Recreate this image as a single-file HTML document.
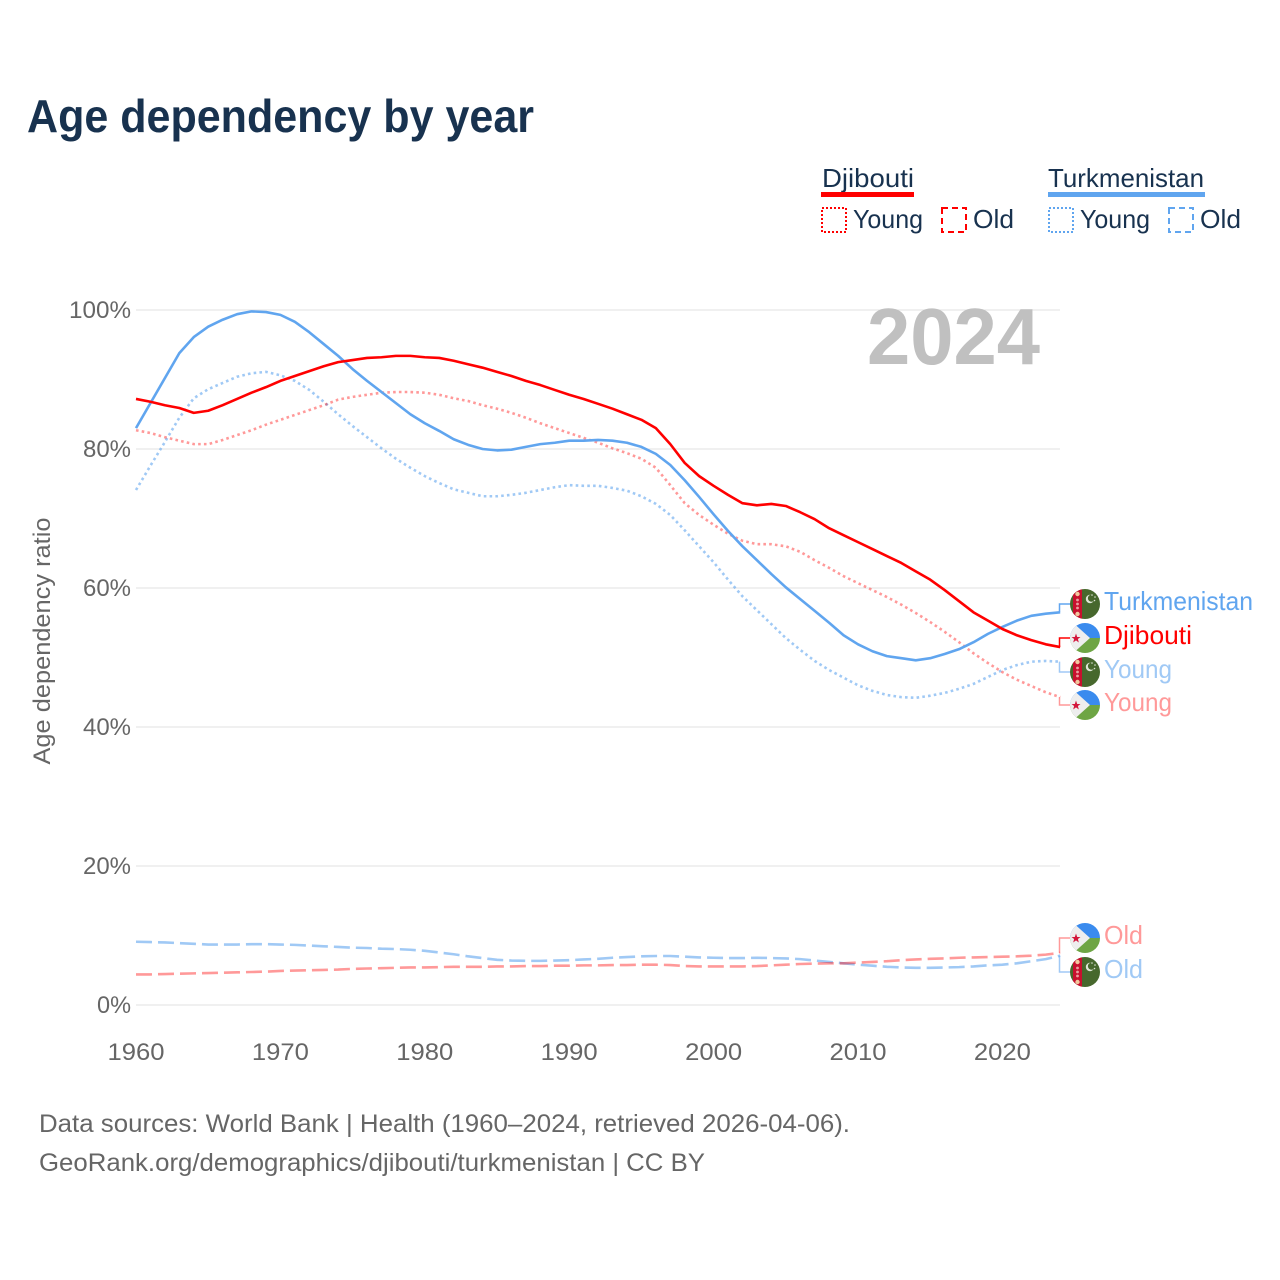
<!DOCTYPE html>
<html lang="en">
<head>
<meta charset="utf-8">
<title>Age dependency by year</title>
<style>
html,body{margin:0;padding:0;background:#fff;width:1280px;height:1280px;overflow:hidden}
svg{display:block}
text{font-family:"Liberation Sans",sans-serif}
</style>
</head>
<body>
<svg id="chart" width="1280" height="1280" viewBox="0 0 1280 1280" xmlns="http://www.w3.org/2000/svg">
<defs>
<clipPath id="flag-clip"><circle cx="15" cy="15" r="15"/></clipPath>
<g id="flag-dj" clip-path="url(#flag-clip)">
  <rect width="30" height="15" fill="#3a8bee"/>
  <rect y="15" width="30" height="15" fill="#6ea544"/>
  <path d="M0 -3 L20 15 L0 33Z" fill="#eeeeee"/>
  <polygon points="6,10.5 7.2,14 10.5,14 7.9,16 8.8,19.5 6,17.4 3.2,19.5 4.1,16 1.5,14 4.8,14" fill="#d3163c"/>
</g>
<g id="flag-tm" clip-path="url(#flag-clip)">
  <rect width="30" height="30" fill="#47682d"/>
  <rect x="3" width="9" height="30" fill="#c8102e"/>
  <circle cx="7.5" cy="5" r="2.2" fill="#f2c9a0"/>
  <circle cx="7.5" cy="25" r="2.2" fill="#f2c9a0"/>
  <circle cx="7.5" cy="11" r="1.4" fill="#e8a0a0"/>
  <circle cx="7.5" cy="15" r="1.4" fill="#e8a0a0"/>
  <circle cx="7.5" cy="19" r="1.4" fill="#e8a0a0"/>
  <circle cx="20" cy="10" r="4.2" fill="#dfe6d8"/>
  <circle cx="21.5" cy="9.2" r="3.6" fill="#47682d"/>
  <circle cx="22" cy="6" r="0.8" fill="#dfe6d8"/>
  <circle cx="25" cy="8" r="0.8" fill="#dfe6d8"/>
  <circle cx="24.5" cy="11.5" r="0.8" fill="#dfe6d8"/>
</g>
</defs>

<text x="27" y="132" font-size="46" font-weight="700" fill="#18324f" textLength="507" lengthAdjust="spacingAndGlyphs">Age dependency by year</text>

<g fill="#18324f" font-size="26">
  <text x="822" y="187" textLength="92" lengthAdjust="spacingAndGlyphs">Djibouti</text>
  <rect x="821" y="192" width="93" height="5" fill="#ff0000"/>
  <rect x="822" y="208" width="24" height="24" fill="none" stroke="#ff0000" stroke-width="2" stroke-dasharray="2 2"/>
  <text x="853" y="228" textLength="70" lengthAdjust="spacingAndGlyphs">Young</text>
  <rect x="942" y="208" width="24" height="24" fill="none" stroke="#ff0000" stroke-width="2" stroke-dasharray="6 4"/>
  <text x="973" y="228" textLength="41" lengthAdjust="spacingAndGlyphs">Old</text>
  <text x="1048" y="187" textLength="156" lengthAdjust="spacingAndGlyphs">Turkmenistan</text>
  <rect x="1048" y="192" width="157" height="5" fill="#60a5ef"/>
  <rect x="1049" y="208" width="24" height="24" fill="none" stroke="#60a5ef" stroke-width="2" stroke-dasharray="2 2"/>
  <text x="1080" y="228" textLength="70" lengthAdjust="spacingAndGlyphs">Young</text>
  <rect x="1169" y="208" width="24" height="24" fill="none" stroke="#60a5ef" stroke-width="2" stroke-dasharray="6 4"/>
  <text x="1200" y="228" textLength="41" lengthAdjust="spacingAndGlyphs">Old</text>
</g>

<g id="grid"></g>
<g id="yticks"></g>
<g id="xticks"></g>

<text transform="translate(50,641) rotate(-90)" text-anchor="middle" font-size="24" fill="#666666" textLength="247" lengthAdjust="spacingAndGlyphs">Age dependency ratio</text>

<text x="1040" y="364" text-anchor="end" font-size="80" font-weight="700" fill="#c0c0c0" textLength="173" lengthAdjust="spacingAndGlyphs">2024</text>

<g id="connectors"></g>
<g id="series"></g>
<g id="endlabels"></g>

<text x="39" y="1132" font-size="25" fill="#666666" textLength="811" lengthAdjust="spacingAndGlyphs">Data sources: World Bank | Health (1960–2024, retrieved 2026-04-06).</text>
<text x="39" y="1171" font-size="25" fill="#666666" textLength="666" lengthAdjust="spacingAndGlyphs">GeoRank.org/demographics/djibouti/turkmenistan | CC BY</text>
</svg>

<script>
const startYear = 1960;
const xTickValues = [1960, 1970, 1980, 1990, 2000, 2010, 2020];
const yTickValues = [0, 20, 40, 60, 80, 100];

const djiboutiTotal = [87.2,86.8,86.3,85.9,85.2,85.5,86.3,87.2,88.1,88.9,89.8,90.5,91.2,91.9,92.5,92.8,93.1,93.2,93.4,93.4,93.2,93.1,92.7,92.2,91.7,91.1,90.5,89.8,89.2,88.5,87.8,87.2,86.5,85.8,85.0,84.2,83.0,80.7,78.0,76.1,74.7,73.4,72.2,71.9,72.1,71.8,70.9,69.9,68.6,67.6,66.6,65.6,64.6,63.6,62.4,61.2,59.7,58.1,56.5,55.3,54.1,53.2,52.5,51.9,51.5];
const turkmenistanTotal = [83.0,86.6,90.2,93.8,96.1,97.6,98.6,99.4,99.8,99.7,99.3,98.3,96.8,95.1,93.4,91.5,89.8,88.2,86.6,85.0,83.7,82.6,81.4,80.6,80.0,79.8,79.9,80.3,80.7,80.9,81.2,81.2,81.3,81.2,80.9,80.3,79.3,77.7,75.5,73.1,70.6,68.2,66.0,64.0,62.0,60.1,58.4,56.7,55.0,53.2,51.9,50.9,50.2,49.9,49.6,49.9,50.5,51.2,52.2,53.4,54.4,55.3,56.0,56.3,56.5];
const djiboutiYoung = [82.7,82.3,81.7,81.2,80.7,80.7,81.3,82.0,82.7,83.5,84.2,84.9,85.6,86.3,87.1,87.5,87.8,88.1,88.2,88.2,88.1,87.8,87.3,86.9,86.3,85.8,85.2,84.5,83.7,83.0,82.3,81.6,80.9,80.1,79.4,78.6,77.3,74.8,72.2,70.5,69.1,67.8,66.8,66.3,66.3,66.0,65.2,64.0,62.9,61.7,60.7,59.7,58.7,57.6,56.4,55.1,53.7,52.2,50.6,49.2,47.9,46.8,45.9,45.0,44.3];
const turkmenistanYoung = [74.1,77.6,81.0,84.5,87.3,88.6,89.5,90.4,90.9,91.1,90.6,89.8,88.5,86.8,85.0,83.3,81.7,80.1,78.6,77.3,76.1,75.1,74.2,73.7,73.2,73.2,73.4,73.7,74.1,74.5,74.8,74.7,74.7,74.4,74.0,73.2,72.1,70.5,68.3,66.0,63.7,61.2,58.8,56.8,54.8,52.8,51.1,49.5,48.2,47.1,46.0,45.2,44.6,44.3,44.2,44.5,44.9,45.5,46.2,47.2,48.2,48.9,49.4,49.5,49.4];
const djiboutiOld = [4.4,4.4,4.45,4.5,4.55,4.6,4.65,4.7,4.75,4.8,4.9,4.95,5,5.05,5.1,5.2,5.25,5.3,5.35,5.4,5.4,5.45,5.5,5.5,5.5,5.55,5.55,5.6,5.6,5.65,5.65,5.7,5.7,5.75,5.75,5.8,5.8,5.75,5.6,5.55,5.55,5.55,5.55,5.6,5.7,5.8,5.9,5.95,6,6,6.1,6.2,6.3,6.45,6.55,6.65,6.7,6.8,6.85,6.9,6.95,7,7.1,7.25,7.5];
const turkmenistanOld = [9.1,9.05,9,8.9,8.8,8.7,8.7,8.7,8.75,8.75,8.7,8.65,8.55,8.45,8.35,8.25,8.2,8.1,8.05,7.95,7.8,7.55,7.3,7,6.75,6.5,6.4,6.35,6.35,6.4,6.45,6.55,6.65,6.8,6.9,7,7.05,7.05,6.95,6.85,6.8,6.75,6.75,6.8,6.75,6.7,6.6,6.4,6.2,6,5.8,5.65,5.5,5.4,5.35,5.35,5.4,5.45,5.55,5.7,5.8,6,6.3,6.6,7.1];

const NS = 'http://www.w3.org/2000/svg';
const xScale = function (year) { return 136 + (year - 1960) * 14.44; };
const yScale = function (v) { return 1005 - v * 6.95; };
const BLUE = '#60a5ef', RED = '#ff0000';

const gridG = document.getElementById('grid');
const yG = document.getElementById('yticks');
const xG = document.getElementById('xticks');
yTickValues.forEach(function (v) {
  const line = document.createElementNS(NS, 'line');
  
  
  line.setAttribute('x1', 136);
  line.setAttribute('x2', 1060);
  line.setAttribute('y1', yScale(v));
  line.setAttribute('y2', yScale(v));
  line.setAttribute('stroke', '#e8e8e8');
  line.setAttribute('stroke-width', 1.2);
  gridG.appendChild(line);
  const t = document.createElementNS(NS, 'text');
  
  
  t.setAttribute('x', 131);
  t.setAttribute('y', yScale(v) + 8);
  t.setAttribute('text-anchor', 'end');
  t.setAttribute('font-size', 24);
  t.setAttribute('fill', '#666666');
  t.setAttribute('textLength', String(v).length * 14 + 20);
  t.setAttribute('lengthAdjust', 'spacingAndGlyphs');
  t.textContent = v + '%';
  yG.appendChild(t);
});
xTickValues.forEach(function (y) {
  const t = document.createElementNS(NS, 'text');
  
  
  t.setAttribute('x', xScale(y));
  t.setAttribute('y', 1060);
  t.setAttribute('text-anchor', 'middle');
  t.setAttribute('font-size', 24);
  t.setAttribute('fill', '#666666');
  t.setAttribute('textLength', 57);
  t.setAttribute('lengthAdjust', 'spacingAndGlyphs');
  t.textContent = y;
  xG.appendChild(t);
});

const seriesList = [
  {name:'turkmenistan-old', values:turkmenistanOld, color:BLUE, opacity:0.6, dash:'16 6', width:2.6},
  {name:'djibouti-old', values:djiboutiOld, color:RED, opacity:0.4, dash:'16 6', width:2.6},
  {name:'turkmenistan-young', values:turkmenistanYoung, color:BLUE, opacity:0.6, dash:'2.6 3.2', width:2.6},
  {name:'djibouti-young', values:djiboutiYoung, color:RED, opacity:0.4, dash:'2.6 3.2', width:2.6},
  {name:'turkmenistan-total', values:turkmenistanTotal, color:BLUE, opacity:1, dash:'', width:2.6},
  {name:'djibouti-total', values:djiboutiTotal, color:RED, opacity:1, dash:'', width:2.6}
];
const seriesG = document.getElementById('series');
seriesList.forEach(function (s) {
  const d = s.values.map(function (v, i) {
    return (i ? 'L' : 'M') + xScale(startYear + i).toFixed(2) + ' ' + yScale(v).toFixed(2);
  }).join(' ');
  const p = document.createElementNS(NS, 'path');
  
  
  p.setAttribute('d', d);
  p.setAttribute('fill', 'none');
  p.setAttribute('stroke', s.color);
  p.setAttribute('stroke-opacity', s.opacity);
  p.setAttribute('stroke-width', s.width);
  p.setAttribute('stroke-linejoin', 'round');
  if (s.dash) p.setAttribute('stroke-dasharray', s.dash);
  seriesG.appendChild(p);
});

const endLabels = [
  {name:'turkmenistan-total', text:'Turkmenistan', flag:'flag-tm', values:turkmenistanTotal, cy:604, base:610, w:149, color:BLUE, op:1},
  {name:'djibouti-total', text:'Djibouti', flag:'flag-dj', values:djiboutiTotal, cy:638, base:644, w:88, color:RED, op:1},
  {name:'turkmenistan-young', text:'Young', flag:'flag-tm', values:turkmenistanYoung, cy:672, base:678, w:68, color:BLUE, op:0.6},
  {name:'djibouti-young', text:'Young', flag:'flag-dj', values:djiboutiYoung, cy:705, base:711, w:68, color:RED, op:0.4},
  {name:'djibouti-old', text:'Old', flag:'flag-dj', values:djiboutiOld, cy:938, base:944, w:39, color:RED, op:0.4},
  {name:'turkmenistan-old', text:'Old', flag:'flag-tm', values:turkmenistanOld, cy:972, base:978, w:39, color:BLUE, op:0.6}
];
const connG = document.getElementById('connectors');
const labG = document.getElementById('endlabels');
endLabels.forEach(function (l) {
  const ey = yScale(l.values[l.values.length - 1]);
  const c = document.createElementNS(NS, 'path');
  
  
  c.setAttribute('d', 'M1059.5 ' + ey.toFixed(2) + ' V' + l.cy + ' H1071');
  c.setAttribute('fill', 'none');
  c.setAttribute('stroke', l.color);
  c.setAttribute('stroke-opacity', l.op);
  c.setAttribute('stroke-width', 1.5);
  connG.appendChild(c);
  const f = document.createElementNS(NS, 'use');
  
  
  f.setAttribute('href', '#' + l.flag);
  f.setAttribute('x', 1070);
  f.setAttribute('y', l.cy - 15);
  labG.appendChild(f);
  const t = document.createElementNS(NS, 'text');
  
  
  t.setAttribute('x', 1104);
  t.setAttribute('y', l.base);
  t.setAttribute('font-size', 26);
  t.setAttribute('fill', l.color);
  t.setAttribute('fill-opacity', l.op);
  t.setAttribute('textLength', l.w);
  t.setAttribute('lengthAdjust', 'spacingAndGlyphs');
  t.textContent = l.text;
  labG.appendChild(t);
});
</script>
</body>
</html>
